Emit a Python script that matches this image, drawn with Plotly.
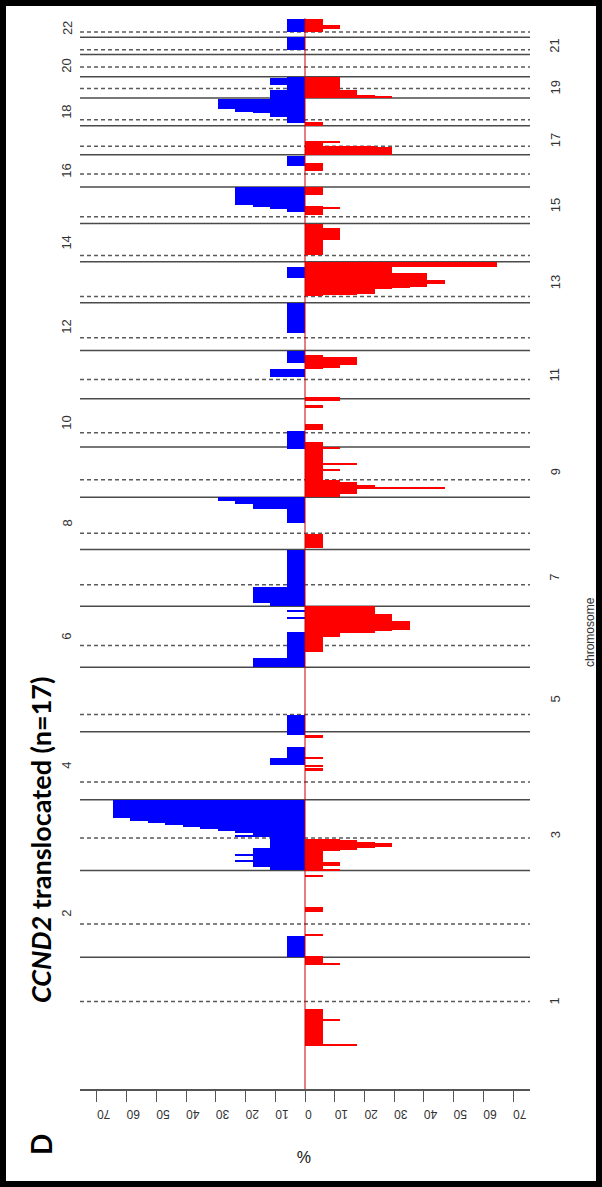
import plotly.graph_objects as go

# ---------------- data ----------------
chrom_len = [249.25, 243.2, 198.0, 191.15, 180.9, 171.1, 159.1, 146.4, 141.2, 135.5, 135.0,
             133.85, 115.2, 107.35, 102.5, 90.35, 81.2, 78.1, 59.1, 63.0, 48.1, 51.3]
centromere = [125.0, 93.3, 91.0, 50.4, 48.4, 61.0, 59.9, 45.6, 49.0, 40.2, 53.7,
              35.8, 17.9, 17.6, 19.0, 36.6, 24.0, 17.2, 26.5, 27.5, 13.2, 14.7]
chrom_labels = [str(i) for i in range(1, 23)]

# gains (blue, drawn to the left)
gain_chr = [2, 3, 3, 3, 3, 3, 3, 3, 3, 3, 3, 3, 3, 3, 3, 3, 4, 4, 4, 5, 6, 6, 6, 6, 7, 7, 7,
            8, 8, 8, 8, 9, 10, 11, 11, 12, 13, 15, 15, 15, 15, 16, 18, 18, 18, 18, 18, 19, 19, 19, 21, 22]
gain_start = [0, 0, 10, 25, 42, 64, 94, 96, 104, 113, 118, 123, 128, 134, 140, 146, 98, 98, 182, 0, 0, 0, 138, 155, 0, 0, 8,
              74, 115, 127, 137, 138, 0, 100, 61, 50, 69, 33, 43, 45, 52, 60, 9, 25, 35, 40, 46, 0, 0, 36, 12.3, 16]
gain_end = [60, 10, 64, 28, 45, 94, 104, 99, 113, 118, 123, 128, 134, 140, 146, 198, 149, 117, 191.15, 47, 100, 27, 141, 158, 159.1, 8, 55,
            146.4, 146.4, 146.4, 146.4, 141.2, 44, 135, 84, 133.85, 101, 43, 45, 52, 102.5, 87, 78.1, 78.1, 76, 74, 74, 59.1, 22, 55, 48.1, 51.3]
gain_pct = [5.9, 11.8, 17.6, 23.5, 23.5, 11.8, 17.6, 23.5, 23.5, 29.4, 35.3, 41.2, 47.1, 52.9, 58.8, 64.7, 5.9, 11.8, 5.9, 5.9, 5.9, 17.6, 5.9, 5.9, 5.9, 11.8, 17.6,
            5.9, 17.6, 23.5, 29.4, 5.9, 5.9, 5.9, 11.8, 5.9, 5.9, 5.9, 11.8, 17.6, 23.5, 5.9, 5.9, 11.8, 17.6, 23.5, 29.4, 5.9, 11.8, 11.8, 5.9, 5.9]

# losses (red, drawn to the right)
loss_chr = [1, 1, 1, 1, 1, 1, 2, 2, 2, 2, 3, 3, 3, 3, 3, 3, 3, 4, 4, 4, 4, 6, 6, 6, 6, 6, 8,
            9, 9, 9, 9, 9, 9, 9, 9, 9, 10, 10, 10, 10, 11, 11, 11, 11,
            13, 13, 13, 13, 13, 13, 13, 13, 14, 14, 15, 15, 15, 16, 17, 17, 17, 17, 18, 19, 19, 19, 19, 22, 22]
loss_start = [0, 0, 1.5, 72, 232, 229, 0, 61, 127, 224, 0, 0, 13, 55, 58, 62, 66, 81, 93, 116, 173, 43, 85, 95, 102, 105, 3,
              0, 2, 10, 22, 25, 73, 90, 92, 135, 0, 48, 109, 130, 0, 83, 85, 95,
              18, 21, 26, 40, 41, 45, 52, 101, 20, 62, 24, 40, 80, 45, 0, 0, 21, 34, 0, 0, 2, 0, 0, 16, 22]
loss_end = [105, 4.5, 3.5, 75, 249.25, 234, 3, 63.5, 140, 230, 87, 4, 23, 87, 86, 80, 76, 88, 97, 121, 183, 85, 95, 171.1, 148, 130, 44,
            141.2, 48, 44, 35, 29, 79, 96, 94, 141.2, 14, 65, 119, 135.5, 5, 122, 108, 118,
            115.2, 101, 101, 100, 83, 83, 64, 115.2, 107.3, 95, 50, 47, 102.5, 66, 36, 21, 24, 38, 11.5, 59.1, 22, 8, 3.5, 51.3, 34]
loss_pct = [5.9, 11.8, 17.6, 11.8, 5.9, 11.8, 5.9, 5.9, 5.9, 5.9, 5.9, 11.8, 11.8, 11.8, 17.6, 23.5, 29.4, 5.9, 5.9, 5.9, 5.9, 5.9, 11.8, 23.5, 29.4, 35.3, 5.9,
            5.9, 11.8, 17.6, 23.5, 47.1, 11.8, 11.8, 17.6, 11.8, 5.9, 5.9, 5.9, 11.8, 11.8, 5.9, 11.8, 17.6,
            5.9, 17.6, 23.5, 29.4, 35.3, 41.2, 47.1, 64.7, 5.9, 11.8, 5.9, 11.8, 5.9, 5.9, 5.9, 29.4, 23.5, 11.8, 5.9, 11.8, 17.6, 23.5, 29.4, 5.9, 11.8]

pct_ticks = [-70, -60, -50, -40, -30, -20, -10, 0, 10, 20, 30, 40, 50, 60, 70]
pct_tick_text = ["70", "60", "50", "40", "30", "20", "10", "0", "10", "20", "30", "40", "50", "60", "70"]

# ---------------- geometry ----------------
W, H = 602, 1187
L, R, T, B = 80, 72, 15, 98
plot_w = W - L - R
plot_h = H - T - B
y_bottom_px = H - B
px_per_mb = 0.3565
chr1_start_px = 1046
G_lo = (chr1_start_px - y_bottom_px) / px_per_mb
G_hi = (chr1_start_px - T) / px_per_mb


def pxx(p):
    return (p - L) / plot_w


def pxy(p):
    return (y_bottom_px - p) / plot_h


offsets = []
acc = 0.0
for ln in chrom_len:
    offsets.append(acc)
    acc += ln
genome_end = acc


def seg(chrs, starts, ends):
    mids, widths = [], []
    for c, s, e in zip(chrs, starts, ends):
        o = offsets[c - 1]
        mids.append(o + (s + e) / 2)
        widths.append(e - s)
    return mids, widths


fig = go.Figure()
gm, gw = seg(gain_chr, gain_start, gain_end)
fig.add_trace(go.Bar(orientation="h", y=gm, x=[-v for v in gain_pct], width=gw, base=0,
                     marker=dict(color="#0000FF", line=dict(width=0)), showlegend=False))
lm, lw = seg(loss_chr, loss_start, loss_end)
fig.add_trace(go.Bar(orientation="h", y=lm, x=loss_pct, width=lw, base=0,
                     marker=dict(color="#FF0000", line=dict(width=0)), showlegend=False))

shapes = []
for i in range(22):
    if i > 0:
        shapes.append(dict(type="line", xref="paper", yref="y", x0=0, x1=1, y0=offsets[i], y1=offsets[i],
                           line=dict(color="#4a4a4a", width=1.5), layer="below"))
    yc = offsets[i] + centromere[i]
    shapes.append(dict(type="line", xref="paper", yref="y", x0=0, x1=1, y0=yc, y1=yc,
                       line=dict(color="#5a5a5a", width=1.5, dash="4px,3px"), layer="below"))
shapes.append(dict(type="line", xref="x", yref="y", x0=0, x1=0, y0=G_lo, y1=genome_end + 2,
                   line=dict(color="#CC0000", width=1), layer="above"))
shapes.append(dict(type="rect", xref="paper", yref="paper", x0=pxx(3), x1=pxx(599), y0=pxy(1184), y1=pxy(3),
                   line=dict(color="black", width=6), fillcolor="rgba(0,0,0,0)", layer="above"))

ann = []
for i in range(22):
    mid = offsets[i] + chrom_len[i] / 2
    xpx = 555 if (i + 1) % 2 == 1 else 67
    ann.append(dict(x=pxx(xpx), y=mid, xref="paper", yref="y", text=chrom_labels[i], showarrow=False,
                    textangle=-90, font=dict(family="Liberation Sans, Arial", size=13, color="#333333"),
                    xanchor="center", yanchor="middle"))
ann.append(dict(x=pxx(590), y=pxy(632), xref="paper", yref="paper", text="chromosome", showarrow=False,
                textangle=-90, xanchor="center", yanchor="middle",
                font=dict(family="Liberation Sans, Arial", size=12, color="#333333")))
ann.append(dict(x=pxx(304), y=pxy(1157), xref="paper", yref="paper", text="%", showarrow=False,
                textangle=180, xanchor="center", yanchor="middle",
                font=dict(family="Liberation Sans, Arial", size=16, color="#111111")))
ann.append(dict(x=pxx(41), y=pxy(840), xref="paper", yref="paper",
                text="<b><i>CCND2</i> translocated (n=17)</b>", showarrow=False, textangle=-90,
                xanchor="center", yanchor="middle",
                font=dict(family="Lato, Open Sans", size=27, color="black")))
ann.append(dict(x=pxx(41), y=pxy(1145), xref="paper", yref="paper", text="<b>D</b>", showarrow=False,
                textangle=-90, xanchor="center", yanchor="middle",
                font=dict(family="Lato, Open Sans", size=28, color="black")))

fig.update_layout(
    width=W, height=H, margin=dict(l=L, r=R, t=T, b=B),
    paper_bgcolor="white", plot_bgcolor="white",
    barmode="overlay", bargap=0,
    shapes=shapes, annotations=ann,
    xaxis=dict(range=[-75.7, 75.7], tickvals=pct_ticks, ticktext=pct_tick_text, tickangle=180,
               ticks="outside", ticklen=11, tickcolor="#555555", showline=True, linecolor="#555555",
               linewidth=1.5, showgrid=False, zeroline=False, ticklabelstandoff=6,
               tickfont=dict(family="Liberation Sans, Arial", size=12, color="#333333")),
    yaxis=dict(range=[G_lo, G_hi], visible=False, showgrid=False, zeroline=False),
)

fig.write_html("out.html")
